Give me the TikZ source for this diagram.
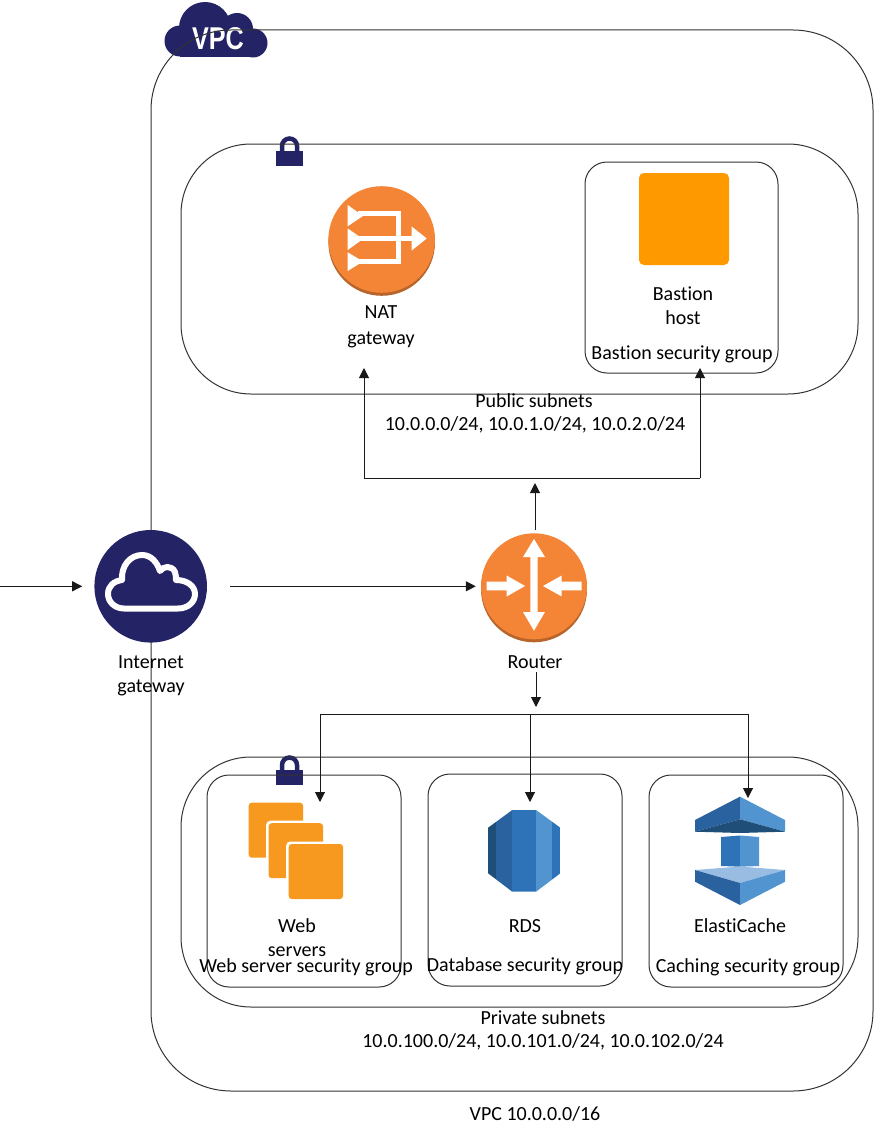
\documentclass[tikz,border=0pt]{standalone}
\usepackage{fontspec}
\setmainfont[Ligatures=NoCommon]{Carlito}
\newfontfamily\vpcfont{Liberation Sans}
\usetikzlibrary{arrows.meta}
\definecolor{navy}{HTML}{232365}
\definecolor{orng}{HTML}{F58536}
\definecolor{orngdk}{HTML}{B8642A}
\definecolor{amber}{HTML}{FF9900}
\definecolor{amberb}{HTML}{F7981F}
\definecolor{bluea}{HTML}{1F4E79}
\definecolor{blueb}{HTML}{2A62A0}
\definecolor{bluec}{HTML}{2E73B8}
\definecolor{blued}{HTML}{5294CF}
\definecolor{bluee}{HTML}{99BCE3}
\definecolor{linegray}{HTML}{333333}
\tikzset{
  box/.style={draw=linegray,line width=1pt,rounded corners=#1,inner sep=0pt,fill=none},
  lab/.style={anchor=base,inner sep=0pt,align=center,text=black,font=\fontsize{20}{24}\selectfont},
  conn/.style={draw=black!90,line width=1pt},
  arr/.style={conn,-{Triangle[length=10pt,width=10pt]}},
  hub/.style={circle,inner sep=0pt,minimum size=#1},
  wht/.style={fill=white,draw=none},
  whl/.style={draw=white,line width=5pt},
}
\begin{document}
\begin{tikzpicture}[x=1pt,y=-1pt]
\useasboundingbox (0,0) rectangle (873,1137);
\fill[white] (0,0) rectangle (873,1137);

% VPC cloud
\fill[navy] (180,41) circle (15.5);
\fill[navy] (205,28) circle (26);
\fill[navy] (237,29) circle (16);
\fill[navy] (253,43) circle (14.5);
\fill[navy,rounded corners=0pt] (180,40) rectangle (253,57.5);
\node[inner sep=0pt,text=white,xscale=.84,yscale=1.05,font=\vpcfont\bfseries\fontsize{30}{30}\selectfont,anchor=base] (vpcname) at (218,50) {VPC};

% Locks
\foreach \ly/\lname in {136/locka,755/lockb}{
  \fill[navy] (276,\ly+15) rectangle (303,\ly+29.5);
  \draw[navy,line width=4.5pt] (282,\ly+16) -- (282,\ly+10) arc[start angle=180,end angle=360,radius=7.5] -- (297,\ly+16);
}

% Boxes
\node[box=80pt,minimum width=722pt,minimum height=1061pt] (vpc) at (512,560.5) {};
\node[box=70pt,minimum width=677pt,minimum height=250pt] (pub) at (519.5,269) {};
\node[box=22pt,minimum width=193pt,minimum height=211pt] (bsg) at (681.5,267.5) {};
\node[box=70pt,minimum width=677pt,minimum height=250pt] (priv) at (519.5,882) {};
\node[box=22pt,minimum width=194pt,minimum height=212pt] (wsg) at (304,881) {};
\node[box=22pt,minimum width=194pt,minimum height=212pt] (dsg) at (525,880) {};
\node[box=22pt,minimum width=194pt,minimum height=212pt] (csg) at (746,881) {};

% Internet gateway
\node[hub=112.6pt,fill=navy] (igw) at (150.7,586.3) {};
\draw[white,line width=6pt,line join=round] (124,608.5) .. controls (115,608.5) and (108,602) .. (108,594)
  .. controls (108,586) and (114,581) .. (122,580) .. controls (121,566) and (130,555) .. (142,555)
  .. controls (151,555) and (157,562) .. (160,571) .. controls (163,566) and (172,565) .. (175,572)
  .. controls (176,575) and (176,578) .. (176,580) .. controls (187,580) and (195,586) .. (195,594)
  .. controls (195,602) and (188,608.5) .. (178,608.5) -- cycle;

% NAT gateway
\fill[orngdk] (381.7,242.5) circle (53.3);
\node[hub=106.6pt,fill=orng] (nat) at (381.7,239.5) {};
\draw[whl] (358,213.5) -- (398.3,213.5) -- (398.3,261.5) -- (358,261.5);
\draw[whl] (358,238.5) -- (412,238.5);
\fill[wht] (347.7,205) -- (363,216) -- (347.7,226.3) -- cycle;
\fill[wht] (347.7,228.5) -- (363,239) -- (347.7,250) -- cycle;
\fill[wht] (347.7,252.3) -- (363,261.5) -- (347.7,271) -- cycle;
\fill[wht] (411.7,226.5) -- (426.7,238.5) -- (411.7,250.5) -- cycle;

% Router
\fill[orngdk] (534,589.3) circle (53);
\node[hub=106pt,fill=orng] (router) at (534,586.3) {};
\fill[wht] (534,539) -- (545,557) -- (537.7,557) -- (537.7,612) -- (545,612) -- (534,630.7)
  -- (523,612) -- (530.3,612) -- (530.3,557) -- (523,557) -- cycle;
\fill[wht] (486.7,581.6) -- (506.7,581.6) -- (506.7,575.5) -- (525,586) -- (506.7,596.5) -- (506.7,590.4) -- (486.7,590.4) -- cycle;
\fill[wht] (581.7,581.6) -- (561.7,581.6) -- (561.7,575.5) -- (543,586) -- (561.7,596.5) -- (561.7,590.4) -- (581.7,590.4) -- cycle;

% Bastion
\node[fill=amber,rounded corners=5pt,inner sep=0pt,minimum width=90pt,minimum height=92pt] (bastion) at (684,219) {};

% Web servers
\foreach \dx/\dy in {0/0,20/20.5,40/41.3}{
  \fill[white,rounded corners=4pt] (246.2+\dx,800.2+\dy) rectangle (305.2+\dx,860.2+\dy);
  \fill[amberb,rounded corners=3pt] (248.7+\dx,802.7+\dy) rectangle (303+\dx,857.7+\dy);
}

% RDS
\begin{scope}
  \clip (512.3,810) -- (536,810) -- (560.7,828) -- (560.7,873) -- (536,891.7) -- (512.3,891.7) -- (487.7,873) -- (487.7,828) -- cycle;
  \fill[bluea] (487.7,810) rectangle (495.7,892);
  \fill[blueb] (495.7,810) rectangle (512.3,892);
  \fill[bluec] (512.3,810) rectangle (536,892);
  \fill[blued] (536,810) rectangle (552,892);
  \fill[bluec] (552,810) rectangle (561,892);
\end{scope}

% ElastiCache
\fill[blueb] (740,796.7) -- (695,820) -- (695,831.7) -- (740,819.3) -- cycle;
\fill[blued] (740,796.7) -- (785,820) -- (785,831.7) -- (740,819.3) -- cycle;
\fill[bluea] (695,831.7) -- (740,819.3) -- (785,831.7) -- (740,833) -- cycle;
\fill[bluec] (721,837) -- (740,835.5) -- (740,866.7) -- (721,866) -- cycle;
\fill[blued] (740,835.5) -- (759,837) -- (759,866) -- (740,866.7) -- cycle;
\fill[bluee] (695,870) -- (740,866.5) -- (785,870) -- (740,883) -- cycle;
\fill[blueb] (695,870) -- (740,883) -- (740,905) -- (695,881.7) -- cycle;
\fill[blued] (785,870) -- (740,883) -- (740,905) -- (785,881.7) -- cycle;

% Connector ends
\coordinate (inet) at (0,586.3);
\coordinate (upjoin) at (535,478);
\coordinate (natup) at (364,478);
\coordinate (natend) at (364,368);
\coordinate (bastup) at (700,478);
\coordinate (bastend) at (700,368);
\coordinate (routerup) at (535,530);
\coordinate (routerdn) at (536,672);
\coordinate (dnend) at (536,707);
\coordinate (webjoin) at (320,714);
\coordinate (webend) at (320,802);
\coordinate (rdsjoin) at (530,714);
\coordinate (rdsend) at (530,802);
\coordinate (cachejoin) at (748,714);
\coordinate (cacheend) at (748,798);

% Connectors
\draw[arr,shorten >=12pt] (inet) -- (igw.west);
\draw[arr,shorten <=23pt,shorten >=5pt] (igw.east) -- (router.west);
\draw[arr] (routerup) -- ([yshift=-5pt]upjoin);
\draw[arr] (natup) -- (natend);
\draw[arr] (bastup) -- (bastend);
\draw[conn] (natup) -- (bastup);
\draw[arr] (routerdn) -- (dnend);
\draw[conn] (webjoin) -- (cachejoin);
\draw[arr] (webjoin) -- (webend);
\draw[arr] (rdsjoin) -- (rdsend);
\draw[arr] (cachejoin) -- (cacheend);

% Labels
\node[lab] (t1) at (381,318) {NAT};
\node[lab] (t2) at (381,344) {gateway};
\node[lab] (t3) at (683,300) {Bastion};
\node[lab] (t4) at (683,324) {host};
\node[lab] (t5) at (682,359) {Bastion security group};
\node[lab] (t6) at (534,407) {Public subnets};
\node[lab] (t7) at (535,430) {10.0.0.0/24, 10.0.1.0/24, 10.0.2.0/24};
\node[lab] (t8) at (151,668) {Internet};
\node[lab] (t9) at (151,692) {gateway};
\node[lab] (t10) at (535,668) {Router};
\node[lab] (t11) at (297,932) {Web};
\node[lab] (t12) at (297,956) {servers};
\node[lab] (t13) at (306,972) {Web server security group};
\node[lab] (t14) at (525,932) {RDS};
\node[lab] (t15) at (525,971) {Database security group};
\node[lab] (t16) at (740,932) {ElastiCache};
\node[lab] (t17) at (748,972) {Caching security group};
\node[lab] (t18) at (543,1024) {Private subnets};
\node[lab] (t19) at (543,1047) {10.0.100.0/24, 10.0.101.0/24, 10.0.102.0/24};
\node[lab] (t20) at (535,1120) {VPC 10.0.0.0/16};
\end{tikzpicture}
\end{document}
